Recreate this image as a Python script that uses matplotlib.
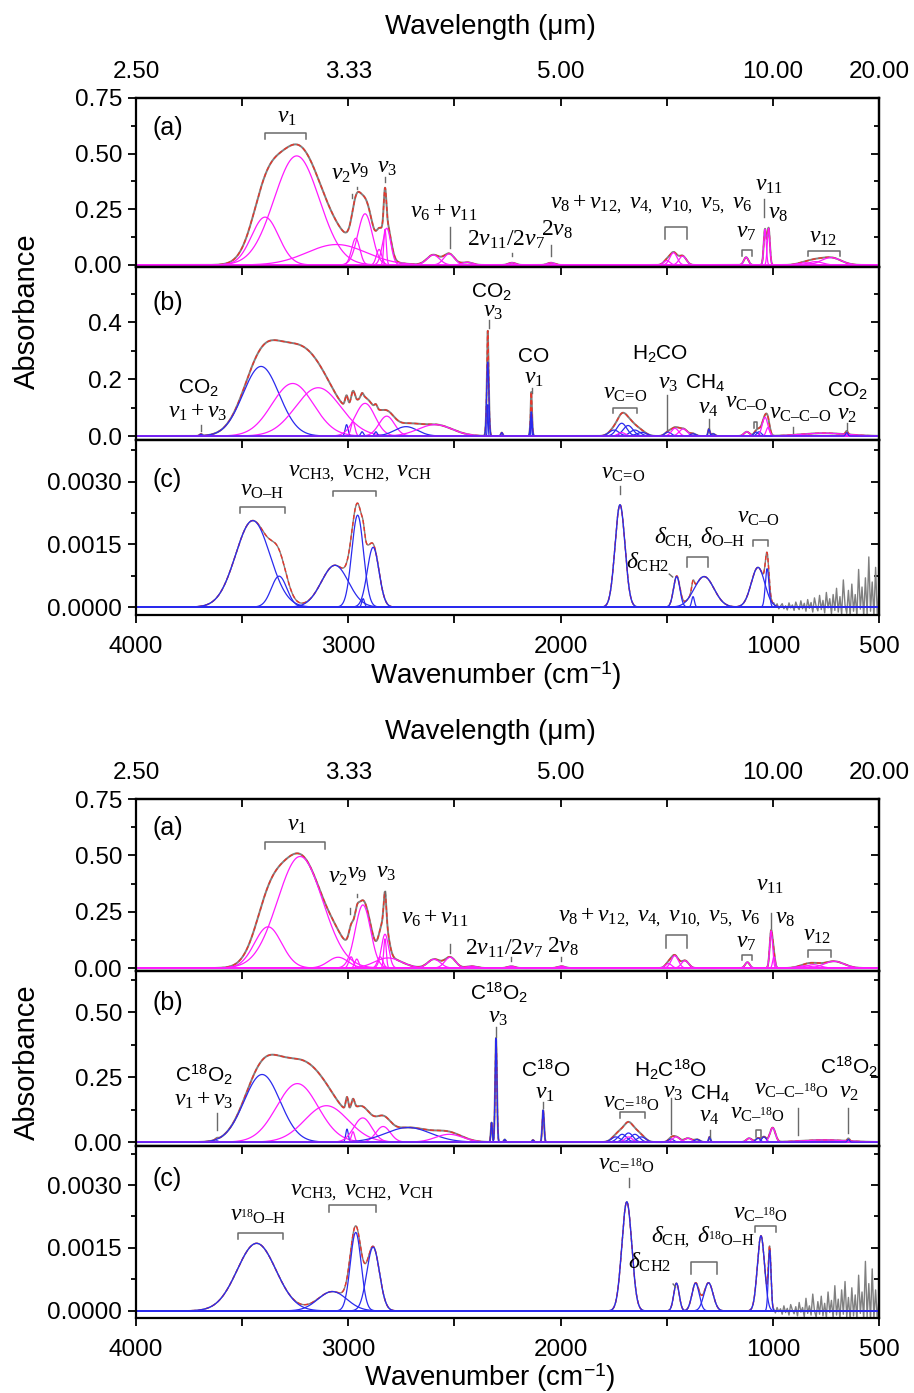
# -*- coding: utf-8 -*-
import numpy as np
import matplotlib
matplotlib.use('Agg')
import matplotlib.pyplot as plt
from matplotlib.ticker import FixedLocator, FuncFormatter, NullFormatter

plt.rcParams['font.family'] = ['Liberation Sans', 'DejaVu Sans']
plt.rcParams['mathtext.fontset'] = 'custom'
plt.rcParams['mathtext.rm'] = 'Liberation Serif'
plt.rcParams['mathtext.it'] = 'Liberation Serif:italic'
plt.rcParams['mathtext.sf'] = 'Liberation Sans'
plt.rcParams['mathtext.bf'] = 'Liberation Serif:bold'

# Gaussian components: centre (cm-1), height, FWHM (cm-1)
# ---- upper figure (CH3OH) ----
a1_pos = [3392, 3243, 3055, 2965, 2921, 2855, 2827, 2819, 2600, 2525, 2440, 2229,
          2045, 1500, 1468, 1425, 1126, 1037, 1020, 850, 800, 726]
a1_amp = [0.215, 0.49, 0.092, 0.12, 0.23, 0.07, 0.16, 0.165, 0.045, 0.05, 0.012, 0.01,
          0.01, 0.02, 0.055, 0.04, 0.035, 0.16, 0.165, 0.01, 0.015, 0.033]
a1_fwhm = [150, 250, 330, 45, 80, 30, 14, 45, 70, 60, 60, 40,
           40, 35, 40, 40, 25, 14, 14, 80, 80, 110]

b1_pos = [3694, 3411, 3262, 3142, 3008, 2978, 2935, 2921, 2870, 2819, 2728, 2591,
          2343, 2343, 2277, 2138, 2138, 1748, 1712, 1682, 1650, 1618, 1712,
          1494, 1461, 1422, 1376, 1301, 1282, 1123, 1079, 1065, 1037, 1023, 760, 652]
b1_amp = [0.006, 0.245, 0.185, 0.17, 0.04, 0.05, 0.015, 0.115, 0.015, 0.07, 0.033, 0.04,
          0.26, 0.11, 0.012, 0.085, 0.07, 0.021, 0.045, 0.037, 0.021, 0.013, 0.012,
          0.014, 0.027, 0.025, 0.008, 0.025, 0.008, 0.015, 0.014, 0.015, 0.066, 0.03, 0.01, 0.012]
b1_fwhm = [15, 200, 230, 250, 16, 22, 15, 110, 15, 86, 126, 188,
           12, 5, 10, 10, 5, 55, 55, 55, 55, 55, 40,
           35, 40, 45, 30, 10, 20, 30, 25, 25, 31, 20, 250, 12]
# 'b' = other species (blue), 'm' = methanol (magenta)
b1_kind = ['b', 'b', 'm', 'm', 'b', 'm', 'b', 'm', 'b', 'm', 'b', 'm',
           'b', 'b', 'b', 'b', 'b', 'b', 'b', 'b', 'b', 'b', 'm',
           'b', 'm', 'm', 'b', 'b', 'b', 'm', 'b', 'b', 'm', 'm', 'm', 'b']

c1_pos = [3450, 3326, 3063, 2956, 2930, 2883, 1720, 1453, 1376, 1324, 1070, 1027]
c1_amp = [0.00207, 0.00074, 0.00100, 0.00220, 0.00020, 0.00143, 0.00245, 0.00073,
          0.00025, 0.00073, 0.00095, 0.00092]
c1_fwhm = [190, 86, 150, 65, 15, 65, 55, 35, 15, 110, 75, 20]
# residual of the measured trace below 1000 cm-1 (996 -> 500 cm-1)
c1_noise = [0.00004, -0.00003, 0.00006, -0.00005, 0.00002, 0.00008, -0.00004, 0.00003,
            -0.00007, 0.00010, -0.00002, 0.00005, -0.00008, 0.00012, 0.00000, -0.00006,
            0.00015, -0.00004, 0.00009, -0.00010, 0.00018, -0.00003, 0.00011, -0.00012,
            0.00022, 0.00002, -0.00009, 0.00028, -0.00006, 0.00016, -0.00014, 0.00035,
            -0.00002, 0.00020, -0.00016, 0.00030, -0.00008, 0.00045, -0.00012, 0.00025,
            -0.00018, 0.00065, 0.00005, -0.00015, 0.00040, -0.00020, 0.00055, -0.00010,
            0.00030, -0.00022, 0.00090, -0.00005, 0.00048, -0.00022, 0.00070, -0.00018,
            0.00120, -0.00010, 0.00060, -0.00022, 0.00095, -0.00020, 0.00040]

# ---- lower figure (CH3-18OH) ----
a2_pos = [3378, 3227, 3048, 2987, 2960, 2931, 2850, 2827, 2827, 2813, 2596, 2520,
          2420, 2233, 1996, 1492, 1462, 1414, 1120, 1008, 995, 850, 810, 712]
a2_amp = [0.183, 0.495, 0.048, 0.05, 0.04, 0.28, 0.05, 0.13, 0.15, 0.045, 0.039, 0.048,
          0.008, 0.008, 0.008, 0.02, 0.055, 0.033, 0.026, 0.165, 0.05, 0.01, 0.015, 0.03]
a2_fwhm = [150, 250, 110, 25, 22, 85, 30, 14, 40, 150, 70, 60,
           60, 40, 40, 35, 40, 40, 25, 16, 14, 80, 80, 110]

b2_pos = [3619, 3406, 3240, 3103, 3006, 2978, 2932, 2836, 2718, 2525, 2325, 2304,
          2263, 2130, 2082, 1740, 1710, 1680, 1650, 1620, 1680, 1480, 1456, 1400,
          1357, 1298, 1112, 1070, 1042, 1001, 760, 644]
b2_amp = [0.005, 0.26, 0.225, 0.14, 0.05, 0.04, 0.093, 0.06, 0.056, 0.03, 0.075, 0.40,
          0.01, 0.008, 0.123, 0.02, 0.03, 0.035, 0.03, 0.02, 0.02, 0.012, 0.02, 0.015,
          0.01, 0.02, 0.015, 0.015, 0.02, 0.055, 0.008, 0.01]
b2_fwhm = [15, 200, 230, 240, 14, 18, 100, 80, 250, 150, 8, 10,
           10, 10, 10, 50, 50, 50, 50, 50, 40, 30, 40, 40,
           30, 10, 30, 25, 25, 30, 250, 12]
b2_kind = ['b', 'b', 'm', 'm', 'b', 'm', 'm', 'm', 'b', 'm', 'b', 'b',
           'b', 'b', 'b', 'b', 'b', 'b', 'b', 'b', 'm', 'b', 'm', 'm',
           'b', 'b', 'm', 'b', 'b', 'm', 'm', 'b']

c2_pos = [3432, 3075, 2965, 2883, 1688, 1454, 1364, 1303, 1056, 1015]
c2_amp = [0.00161, 0.00046, 0.00187, 0.00152, 0.00260, 0.00066, 0.00066, 0.00067,
          0.00179, 0.00145]
c2_fwhm = [215, 160, 60, 70, 55, 30, 40, 50, 40, 15]
c2_noise = [0.00003, -0.00005, 0.00008, -0.00002, 0.00005, -0.00008, 0.00012, -0.00004,
            0.00006, -0.00010, 0.00015, 0.00002, -0.00007, 0.00010, -0.00012, 0.00020,
            -0.00003, 0.00008, -0.00014, 0.00030, -0.00006, 0.00012, -0.00010, 0.00040,
            0.00000, -0.00015, 0.00022, -0.00008, 0.00035, -0.00012, 0.00018, -0.00016,
            0.00045, -0.00004, 0.00025, -0.00018, 0.00060, -0.00010, 0.00028, -0.00020,
            0.00050, -0.00008, 0.00070, -0.00015, 0.00032, -0.00022, 0.00055, -0.00012,
            0.00038, -0.00022, 0.00085, -0.00006, 0.00045, -0.00020, 0.00118, -0.00015,
            0.00065, -0.00022, 0.00100, -0.00018, 0.00050, -0.00020, 0.00030]

x_ticks = [4000, 3500, 3000, 2500, 2000, 1500, 1000, 500]
x_labelled = [4000, 3000, 2000, 1000, 500]
wl_labelled = [4000, 3000, 2000, 1000, 500]

GRAY = '#808080'
RED = '#e8352a'
MAG = '#ff1aff'
BLUE = '#2a2aee'
ANN = '#6a6a6a'
KIND_COL = {'b': BLUE, 'm': MAG}

wn = np.arange(4000.0, 499.0, -1.0)


def gauss(x, pos, amp, fwhm):
    return amp * np.exp(-4 * np.log(2) * ((x - pos) / fwhm) ** 2)


def fit_sum(x, pos, amp, fwhm):
    return np.sum([gauss(x, p, a, w) for p, a, w in zip(pos, amp, fwhm)], axis=0)


def draw_fit(ax, pos, amp, fwhm, colors, noise=None):
    total = fit_sum(wn, pos, amp, fwhm)
    if noise is None:
        ax.plot(wn, total, color=GRAY, lw=1.4)
    else:
        tail = np.linspace(996, 500, len(noise))
        gx = np.concatenate([wn[wn > 998], tail])
        gy = np.concatenate([total[wn > 998], fit_sum(tail, pos, amp, fwhm) + np.array(noise)])
        ax.plot(gx, gy, color=GRAY, lw=1.0)
    ax.plot(wn, total, color=RED, lw=1.0, ls=(0, (3, 2)))
    for p, a, w, col in zip(pos, amp, fwhm, colors):
        ax.plot(wn, gauss(wn, p, a, w), color=col, lw=0.9)


def bracket(ax, x0, x1, top, bot):
    ax.plot([x0, x0, x1, x1], [bot, top, top, bot], color=ANN, lw=1.1)


def mark(ax, x, y0, y1):
    ax.plot([x, x], [y0, y1], color=ANN, lw=1.0)


def nu(ax, x, y, s, size=17):
    ax.text(x, y, s, ha='center', va='center', fontsize=size)


def sans(ax, x, y, s, size=15):
    ax.text(x, y, s, ha='center', va='center', fontsize=size)


def setup(ax, ylim, major, minor, fmt, bottom_labels=False, top_labels=False):
    ax.set_xlim(4000, 500)
    ax.set_ylim(*ylim)
    ax.xaxis.set_major_locator(FixedLocator(x_ticks))
    ax.yaxis.set_major_locator(FixedLocator(major))
    ax.yaxis.set_minor_locator(FixedLocator(minor))
    ax.yaxis.set_major_formatter(FuncFormatter(lambda v, p: fmt % v))
    if bottom_labels:
        ax.xaxis.set_major_formatter(FuncFormatter(
            lambda v, p: '%d' % v if int(round(v)) in x_labelled else ''))
    else:
        ax.xaxis.set_major_formatter(NullFormatter())
    ax.tick_params(which='both', direction='out', width=1.3, labelsize=17.5)
    ax.tick_params(which='major', length=6)
    ax.tick_params(which='minor', length=3.5)
    ax.tick_params(axis='y', pad=4)
    ax.tick_params(axis='x', pad=9)
    for s in ax.spines.values():
        s.set_linewidth(1.6)
    right = ax.secondary_yaxis('right')
    right.set_ticks(major)
    right.yaxis.set_minor_locator(FixedLocator(minor))
    right.yaxis.set_major_formatter(NullFormatter())
    right.tick_params(which='both', direction='in', width=1.3)
    right.tick_params(which='major', length=6)
    right.tick_params(which='minor', length=3.5)
    right.spines['right'].set_linewidth(1.6)
    top = ax.secondary_xaxis('top')
    top.set_ticks(x_ticks)
    if top_labels:
        top.xaxis.set_major_formatter(FuncFormatter(
            lambda v, p: '%.2f' % (1e4 / v) if int(round(v)) in wl_labelled else ''))
    else:
        top.xaxis.set_major_formatter(NullFormatter())
    top.tick_params(direction='in', length=6, width=1.3, labelsize=17.5, pad=11)
    top.spines['top'].set_linewidth(1.6)


fig = plt.figure(figsize=(9.14, 13.93), dpi=100)
FW, FH = 914.0, 1393.0


def panel(top_px, bot_px):
    return fig.add_axes([136 / FW, 1 - bot_px / FH, 743 / FW, (bot_px - top_px) / FH])


a1 = panel(98, 267)
b1 = panel(267, 440)
c1 = panel(440, 615)
a2 = panel(799, 971)
b2 = panel(971, 1146)
c2 = panel(1146, 1318)

# ---------------- upper figure ----------------
draw_fit(a1, a1_pos, a1_amp, a1_fwhm, [MAG] * len(a1_pos))
draw_fit(b1, b1_pos, b1_amp, b1_fwhm, [KIND_COL[k] for k in b1_kind])
draw_fit(c1, c1_pos, c1_amp, c1_fwhm, [BLUE] * len(c1_pos), noise=c1_noise)

nu(a1, 3290, 0.663, r'$\nu_1$')
bracket(a1, 3392, 3199, 0.593, 0.566)
nu(a1, 3034, 0.409, r'$\nu_2$')
nu(a1, 2951, 0.431, r'$\nu_9$')
nu(a1, 2817, 0.441, r'$\nu_3$')
mark(a1, 2982, 0.30, 0.32)
mark(a1, 2960, 0.34, 0.35)
mark(a1, 2827, 0.374, 0.397)
nu(a1, 2549, 0.239, r'$\nu_6+\nu_{11}$')
mark(a1, 2520, 0.075, 0.172)
nu(a1, 2257, 0.112, r'$2\nu_{11}/2\nu_7$')
mark(a1, 2229, 0.04, 0.055)
nu(a1, 2017, 0.16, r'$2\nu_8$')
mark(a1, 2045, 0.04, 0.09)
nu(a1, 1574, 0.274, r'$\nu_8+\nu_{12,}\ \nu_{4,}\ \nu_{10,}\ \nu_{5,}\ \nu_6$')
bracket(a1, 1508, 1404, 0.172, 0.116)
nu(a1, 1126, 0.15, r'$\nu_7$')
bracket(a1, 1146, 1098, 0.067, 0.04)
nu(a1, 1020, 0.359, r'$\nu_{11}$')
mark(a1, 1042, 0.217, 0.296)
nu(a1, 975, 0.233, r'$\nu_8$')
nu(a1, 763, 0.126, r'$\nu_{12}$')
bracket(a1, 836, 685, 0.064, 0.04)

sans(b1, 3708, 0.17, 'CO$_\\mathsf{2}$')
nu(b1, 3708, 0.085, r'$\nu_1+\nu_3$')
mark(b1, 3694, 0.018, 0.04)
sans(b1, 2328, 0.51, 'CO$_\\mathsf{2}$')
nu(b1, 2320, 0.44, r'$\nu_3$')
mark(b1, 2339, 0.38, 0.41)
sans(b1, 2127, 0.281, 'CO')
nu(b1, 2127, 0.206, r'$\nu_1$')
mark(b1, 2135, 0.15, 0.17)
nu(b1, 1696, 0.15, r'$\nu_{\rm C\!=\!O}$')
bracket(b1, 1754, 1638, 0.1, 0.082)
sans(b1, 1529, 0.29, 'H$_\\mathsf{2}$CO')
nu(b1, 1495, 0.188, r'$\nu_3$')
mark(b1, 1500, 0.021, 0.144)
sans(b1, 1318, 0.19, 'CH$_\\mathsf{4}$')
nu(b1, 1305, 0.1, r'$\nu_4$')
mark(b1, 1301, 0.03, 0.06)
nu(b1, 1123, 0.12, r'$\nu_{\rm C–O}$')
bracket(b1, 1089, 1075, 0.05, 0.027)
nu(b1, 872, 0.08, r'$\nu_{\rm C–C–O}$')
mark(b1, 906, 0.009, 0.033)
sans(b1, 649, 0.159, 'CO$_\\mathsf{2}$')
nu(b1, 649, 0.077, r'$\nu_2$')
mark(b1, 650, 0.02, 0.045)

nu(c1, 3408, 0.0028, r'$\nu_{\rm O–H}$')
bracket(c1, 3510, 3298, 0.00239, 0.00225)
nu(c1, 2945, 0.0032, r'$\nu_{\rm CH3,}\ \nu_{\rm CH2,}\ \nu_{\rm CH}$')
bracket(c1, 3074, 2871, 0.00277, 0.00265)
nu(c1, 1702, 0.0032, r'$\nu_{\rm C\!=\!O}$')
mark(c1, 1720, 0.0027, 0.0029)
nu(c1, 1590, 0.00108, r'$\delta_{\rm CH2}$')
c1.plot([1488, 1472], [0.00079, 0.00072], color=ANN, lw=1.0)
nu(c1, 1345, 0.00165, r'$\delta_{\rm CH,}\ \delta_{\rm O–H}$')
bracket(c1, 1406, 1304, 0.00121, 0.00095)
nu(c1, 1069, 0.00215, r'$\nu_{\rm C–O}$')
bracket(c1, 1093, 1023, 0.00161, 0.00146)

# ---------------- lower figure ----------------
draw_fit(a2, a2_pos, a2_amp, a2_fwhm, [MAG] * len(a2_pos))
draw_fit(b2, b2_pos, b2_amp, b2_fwhm, [KIND_COL[k] for k in b2_kind])
draw_fit(c2, c2_pos, c2_amp, c2_fwhm, [BLUE] * len(c2_pos), noise=c2_noise)

nu(a2, 3240, 0.635, r'$\nu_1$')
bracket(a2, 3392, 3110, 0.558, 0.53)
nu(a2, 3048, 0.405, r'$\nu_2$')
nu(a2, 2960, 0.42, r'$\nu_9$')
nu(a2, 2822, 0.428, r'$\nu_3$')
mark(a2, 2992, 0.24, 0.265)
mark(a2, 2960, 0.317, 0.33)
mark(a2, 2827, 0.32, 0.34)
nu(a2, 2594, 0.22, r'$\nu_6+\nu_{11}$')
mark(a2, 2520, 0.065, 0.108)
nu(a2, 2266, 0.087, r'$2\nu_{11}/2\nu_7$')
mark(a2, 2233, 0.03, 0.05)
nu(a2, 1990, 0.095, r'$2\nu_8$')
mark(a2, 1996, 0.03, 0.05)
nu(a2, 1537, 0.225, r'$\nu_8+\nu_{12,}\ \nu_{4,}\ \nu_{10,}\ \nu_{5,}\ \nu_6$')
bracket(a2, 1503, 1404, 0.147, 0.089)
nu(a2, 1126, 0.117, r'$\nu_7$')
bracket(a2, 1146, 1098, 0.056, 0.034)
nu(a2, 1015, 0.368, r'$\nu_{11}$')
mark(a2, 1008, 0.177, 0.244)
nu(a2, 941, 0.22, r'$\nu_8$')
nu(a2, 790, 0.147, r'$\nu_{12}$')
bracket(a2, 836, 726, 0.078, 0.05)

sans(b2, 3680, 0.258, 'C$^\\mathsf{18}$O$_\\mathsf{2}$')
nu(b2, 3680, 0.162, r'$\nu_1+\nu_3$')
mark(b2, 3619, 0.046, 0.11)
sans(b2, 2292, 0.574, 'C$^\\mathsf{18}$O$_\\mathsf{2}$')
nu(b2, 2295, 0.482, r'$\nu_3$')
mark(b2, 2304, 0.405, 0.443)
sans(b2, 2072, 0.277, 'C$^\\mathsf{18}$O')
nu(b2, 2072, 0.187, r'$\nu_1$')
mark(b2, 2081, 0.13, 0.155)
nu(b2, 1666, 0.155, r'$\nu_{\mathrm{C\!=\!}{}^{18}\mathrm{O}}$')
bracket(b2, 1720, 1600, 0.117, 0.091)
sans(b2, 1481, 0.277, 'H$_\\mathsf{2}$C$^\\mathsf{18}$O')
nu(b2, 1468, 0.193, r'$\nu_3$')
mark(b2, 1481, 0.033, 0.168)
sans(b2, 1298, 0.185, 'CH$_\\mathsf{4}$')
nu(b2, 1298, 0.101, r'$\nu_4$')
mark(b2, 1298, 0.02, 0.046)
nu(b2, 1070, 0.113, r'$\nu_{\mathrm{C–}{}^{18}\mathrm{O}}$')
bracket(b2, 1078, 1056, 0.046, 0.02)
nu(b2, 914, 0.206, r'$\nu_{\mathrm{C–C–}{}^{18}\mathrm{O}}$')
mark(b2, 883, 0.027, 0.13)
sans(b2, 644, 0.29, 'C$^\\mathsf{18}$O$_\\mathsf{2}$')
nu(b2, 644, 0.193, r'$\nu_2$')
mark(b2, 644, 0.035, 0.13)

nu(c2, 3427, 0.00228, r'$\nu_{{}^{18}\mathrm{O–H}}$')
bracket(c2, 3520, 3308, 0.00185, 0.00171)
nu(c2, 2938, 0.00284, r'$\nu_{\rm CH3,}\ \nu_{\rm CH2,}\ \nu_{\rm CH}$')
bracket(c2, 3089, 2869, 0.00252, 0.00236)
nu(c2, 1688, 0.00351, r'$\nu_{\mathrm{C\!=\!}{}^{18}\mathrm{O}}$')
mark(c2, 1680, 0.00296, 0.00316)
nu(c2, 1578, 0.00116, r'$\delta_{\rm CH2}$')
c2.plot([1470, 1458], [0.00064, 0.00057], color=ANN, lw=1.0)
nu(c2, 1330, 0.00176, r'$\delta_{\rm CH,}\ \delta_{{}^{18}\mathrm{O–H}}$')
bracket(c2, 1385, 1263, 0.00117, 0.00088)
nu(c2, 1056, 0.00234, r'$\nu_{\mathrm{C–}{}^{18}\mathrm{O}}$')
bracket(c2, 1084, 987, 0.00202, 0.00189)

# ---------------- axes ----------------
setup(a1, (-0.009, 0.75), [0, 0.25, 0.5, 0.75], [0.125, 0.375, 0.625], '%.2f', top_labels=True)
setup(b1, (-0.014, 0.595), [0, 0.2, 0.4], [0.1, 0.3, 0.5], '%.1f')
setup(c1, (-0.00019, 0.004), [0, 0.0015, 0.003], [0.00075, 0.00225, 0.00375], '%.4f',
      bottom_labels=True)
setup(a2, (-0.013, 0.75), [0, 0.25, 0.5, 0.75], [0.125, 0.375, 0.625], '%.2f', top_labels=True)
setup(b2, (-0.015, 0.658), [0, 0.25, 0.5], [0.125, 0.375, 0.625], '%.2f')
setup(c2, (-0.00017, 0.00393), [0, 0.0015, 0.003], [0.00075, 0.00225, 0.00375], '%.4f',
      bottom_labels=True)

panel_tags = [(a1, '(a)', 0.82), (b1, '(b)', 0.79), (c1, '(c)', 0.77),
              (a2, '(a)', 0.833), (b2, '(b)', 0.815), (c2, '(c)', 0.81)]
for ax, lab, ypos in panel_tags:
    ax.text(0.022, ypos, lab, transform=ax.transAxes, fontsize=18, va='center', ha='left')

fig.text(490 / FW, 1 - 27 / FH, 'Wavelength (μm)', ha='center', va='center', fontsize=20)
fig.text(490 / FW, 1 - 732 / FH, 'Wavelength (μm)', ha='center', va='center', fontsize=20)
fig.text(496 / FW, 1 - 676 / FH, 'Wavenumber (cm$^{\\mathsf{-1}}$)', ha='center', va='center',
         fontsize=20)
fig.text(490 / FW, 1 - 1378 / FH, 'Wavenumber (cm$^{\\mathsf{-1}}$)', ha='center', va='center',
         fontsize=20)
fig.text(27 / FW, 1 - 311 / FH, 'Absorbance', rotation=90, ha='center', va='center', fontsize=21)
fig.text(27 / FW, 1 - 1062 / FH, 'Absorbance', rotation=90, ha='center', va='center', fontsize=21)

fig.savefig('out.png', dpi=100)
